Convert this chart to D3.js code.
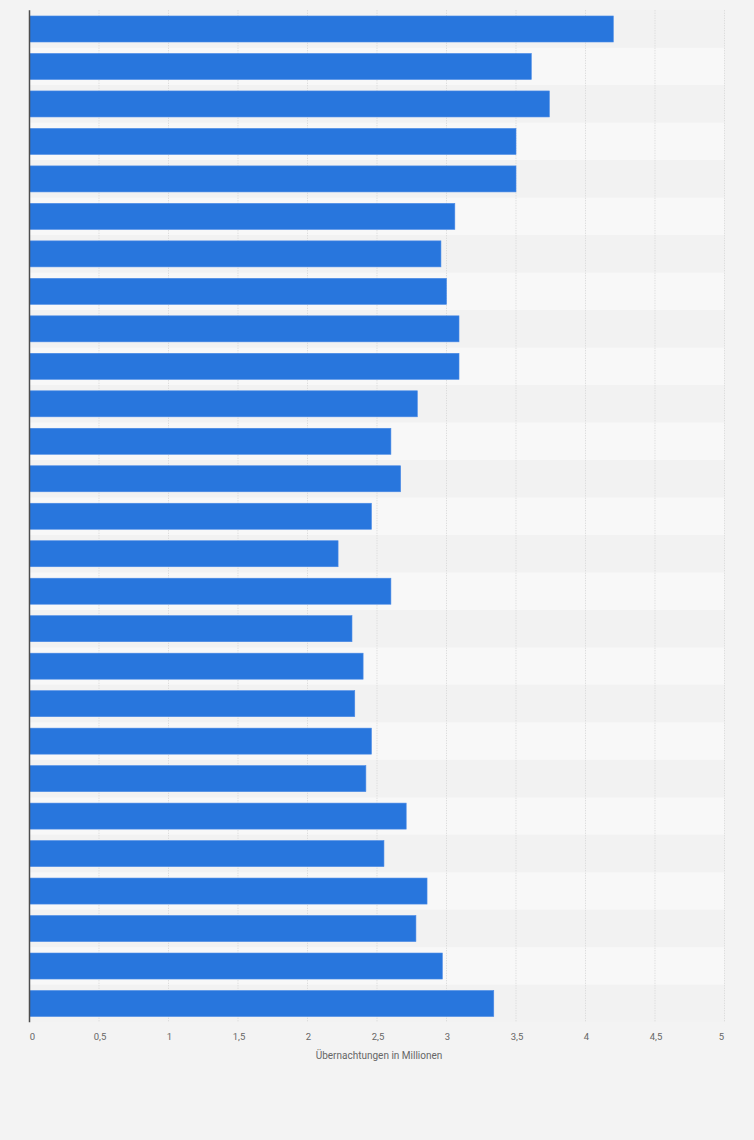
<!DOCTYPE html>
<html>
<head>
<meta charset="utf-8">
<script src="https://cdn.jsdelivr.net/npm/d3@7"></script>
<style>
  html, body { margin: 0; padding: 0; background: #f3f3f3; }
  svg { display: block; }
</style>
</head>
<body>
<svg width="754" height="1140"></svg>
<script>
// Übernachtungen in Millionen, one value per bar (top to bottom)
const values = [4.2, 3.61, 3.74, 3.5, 3.5, 3.06, 2.96, 3.0, 3.09, 3.09,
  2.79, 2.6, 2.67, 2.46, 2.22, 2.6, 2.32, 2.4, 2.34, 2.46,
  2.42, 2.71, 2.55, 2.86, 2.78, 2.97, 3.34];
const tickValues = [0, 0.5, 1, 1.5, 2, 2.5, 3, 3.5, 4, 4.5, 5];
const axisTitle = "Übernachtungen in Millionen";

const svg = d3.select("svg");
const margin = { top: 10.25, left: 29.5, right: 29.5 };
const plotWidth = 754 - margin.left - margin.right;
const plotHeight = 1012;

const rows = values.map((v, i) => ({ idx: i, value: v }));

const x = d3.scaleLinear().domain([0, 5]).range([0, plotWidth]);
const y = d3.scaleBand()
  .domain(rows.map((d) => d.idx))
  .range([0, plotHeight])
  .paddingInner(0.306)
  .paddingOuter(0.153);

const g = svg.append("g")
  .attr("transform", `translate(${margin.left},${margin.top})`);

// alternating row stripes
const step = y.step();
g.selectAll(".stripe").data(rows).enter().append("rect")
  .attr("class", "stripe")
  .attr("x", 0)
  .attr("y", (d) => y(d.idx) - step * y.paddingInner() / 2)
  .attr("width", plotWidth)
  .attr("height", step)
  .attr("fill", (d) => d.idx % 2 === 0 ? "#f2f2f2" : "#f8f8f8");

// vertical dotted gridlines
g.selectAll(".grid").data(tickValues.slice(1)).enter().append("line")
  .attr("class", "grid")
  .attr("x1", (d) => x(d)).attr("x2", (d) => x(d))
  .attr("y1", 0).attr("y2", plotHeight)
  .attr("stroke", "#d6d6d6")
  .attr("stroke-width", 1)
  .attr("stroke-dasharray", "1,1.5");

// bars
g.selectAll(".bar").data(rows).enter().append("rect")
  .attr("class", "bar")
  .attr("x", 0)
  .attr("y", (d) => y(d.idx))
  .attr("width", (d) => x(d.value))
  .attr("height", y.bandwidth())
  .attr("fill", "#2876dd")
  .attr("stroke", "#4a8ae6")
  .attr("stroke-width", 0.6);

// left axis line
g.append("line")
  .attr("x1", 0).attr("x2", 0)
  .attr("y1", 0).attr("y2", plotHeight)
  .attr("stroke", "#4d4d4d")
  .attr("stroke-width", 1.5);

// x tick labels
const fmt = (v) => String(v).replace(".", ",");
g.selectAll(".tick-label").data(tickValues).enter().append("text")
  .attr("class", "tick-label")
  .attr("x", (d, i) => x(d) + (i === 0 ? 3 : i === tickValues.length - 1 ? -3 : 1))
  .attr("y", plotHeight + 17.5)
  .attr("text-anchor", "middle")
  .attr("font-family", "Roboto, 'Liberation Sans', sans-serif")
  .attr("font-size", 9.5)
  .attr("fill", "#666")
  .text(fmt);

// axis title
g.append("text")
  .attr("x", plotWidth / 2 + 2)
  .attr("y", plotHeight + 36.5)
  .attr("text-anchor", "middle")
  .attr("font-family", "Roboto, 'Liberation Sans', sans-serif")
  .attr("font-size", 10)
  .attr("fill", "#666")
  .text(axisTitle);
</script>
</body>
</html>
